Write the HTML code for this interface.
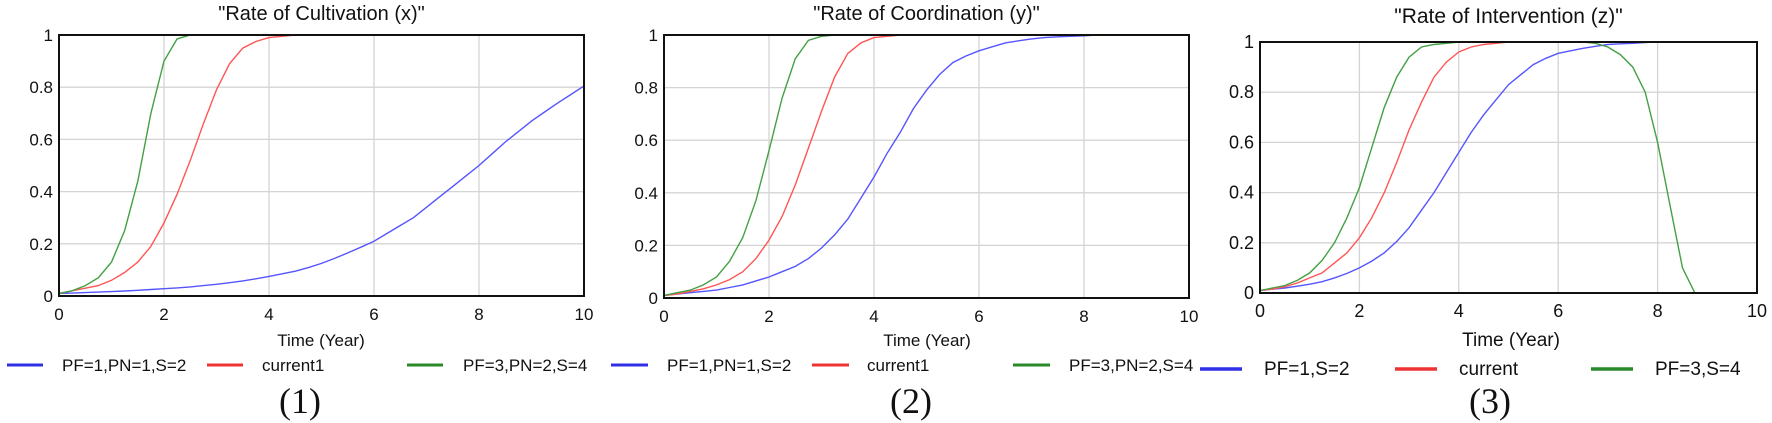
<!DOCTYPE html>
<html><head><meta charset="utf-8"><style>
html,body{margin:0;padding:0;background:#fff;}
svg{display:block;font-family:"Liberation Sans",sans-serif;}
</style></head><body>
<svg id="chart" width="1772" height="423" viewBox="0 0 1772 423" xmlns="http://www.w3.org/2000/svg"></svg>
<script>
const xTicks = [0,2,4,6,8,10];
const yTicks = [0,0.2,0.4,0.6,0.8,1];
const yTickLabels = ["0","0.2","0.4","0.6","0.8","1"];
const titles = ['"Rate of Cultivation (x)"','"Rate of Coordination (y)"','"Rate of Intervention (z)"'];
const captions = ["(1)","(2)","(3)"];
const legendNames1 = ["PF=1,PN=1,S=2","current1","PF=3,PN=2,S=4"];
const legendNames2 = ["PF=1,PN=1,S=2","current1","PF=3,PN=2,S=4"];
const legendNames3 = ["PF=1,S=2","current","PF=3,S=4"];
// time 0..10 step 0.25
const p1Blue = [.010,.011,.013,.015,.017,.019,.022,.025,.028,.031,.035,.040,.045,.051,.058,.066,.075,.085,.095,.109,.125,.144,.165,.187,.21,.24,.27,.30,.34,.38,.42,.46,.50,.545,.59,.63,.67,.705,.74,.772,.805];
const p1Red = [.01,.02,.03,.04,.06,.09,.13,.19,.28,.39,.52,.66,.79,.89,.95,.975,.99,.995,1,1,1,1,1,1,1,1,1,1,1,1,1,1,1,1,1,1,1,1,1,1,1];
const p1Green = [.01,.02,.04,.07,.13,.25,.44,.70,.90,.985,1,1,1,1,1,1,1,1,1,1,1,1,1,1,1,1,1,1,1,1,1,1,1,1,1,1,1,1,1,1,1];
const p2Blue = [.01,.015,.02,.025,.03,.04,.05,.065,.08,.1,.12,.15,.19,.24,.30,.38,.46,.55,.63,.72,.79,.85,.895,.92,.94,.955,.97,.978,.985,.99,.993,.995,.997,1,1,1,1,1,1,1,1];
const p2Red = [.01,.015,.025,.035,.05,.07,.10,.15,.22,.31,.43,.57,.71,.84,.93,.97,.99,.995,1,1,1,1,1,1,1,1,1,1,1,1,1,1,1,1,1,1,1,1,1,1,1];
const p2Green = [.01,.02,.03,.05,.08,.14,.23,.37,.56,.76,.91,.98,.995,1,1,1,1,1,1,1,1,1,1,1,1,1,1,1,1,1,1,1,1,1,1,1,1,1,1,1,1];
const p3Blue = [.01,.015,.02,.027,.035,.045,.06,.078,.1,.127,.16,.205,.26,.33,.40,.48,.56,.64,.71,.77,.83,.87,.91,.935,.955,.965,.975,.983,.99,.993,.995,.998,1,1,1,1,1,1,1,1,1];
const p3Red = [.01,.015,.025,.04,.06,.08,.12,.16,.22,.30,.40,.52,.65,.76,.86,.92,.96,.98,.99,.995,1,1,1,1,1,1,1,1,1,1,1,1,1,1,1,1,1,1,1,1,1];
const p3Green = [.01,.02,.03,.05,.08,.13,.2,.3,.42,.58,.74,.86,.94,.98,.99,.995,1,1,1,1,1,1,1,1,1,1,1,.995,.98,.95,.9,.8,.6,.35,.1,0,0,0,0,0,0];

const NS="http://www.w3.org/2000/svg";
const svg=document.getElementById('chart');
function mk(tag,attrs,parent){const e=document.createElementNS(NS,tag);for(const k in attrs)e.setAttribute(k,attrs[k]);(parent||svg).appendChild(e);return e;}

const panels=[
 {L:59,R:584,T:35,B:296,tb:20,tf:20,fs:17,lfs:17,lw:3,lineLen:36,cap:300,xl:321,leg:[[7,62],[207,262],[407,463]],ly:365,names:legendNames1,series:[p1Blue,p1Red,p1Green]},
 {L:664,R:1189,T:35,B:298,tb:20,tf:20,fs:17,lfs:17,lw:3,lineLen:37,cap:911,xl:927,leg:[[611,667],[812,867],[1013,1069]],ly:365,names:legendNames2,series:[p2Blue,p2Red,p2Green]},
 {L:1260,R:1757,T:42,B:293,tb:23,tf:21,fs:18,lfs:19,lw:3.5,lineLen:42,cap:1490,xl:1511,leg:[[1200,1264],[1395,1459],[1591,1655]],ly:369,names:legendNames3,series:[p3Blue,p3Red,p3Green]}
];
const lineColors=["#5555ff","#ff5555","#44a044"];
const legColors=["#2f2fe6","#ee3333","#2a8a2a"];

panels.forEach((p,pi)=>{
  const g=mk('g',{});
  
  
  const sx=v=>p.L+(v/10)*(p.R-p.L);
  const sy=v=>p.B-v*(p.B-p.T);
  const t=mk('text',{x:(p.L+p.R)/2,y:p.tb,'text-anchor':'middle','font-size':p.tf,fill:'#111'},g);
  t.textContent=titles[pi];
  
  
  yTicks.forEach((v,i)=>{
    const gl=mk('line',{x1:p.L,x2:p.R,y1:sy(v),y2:sy(v),stroke:'#d4d4d4','stroke-width':1.3},g);
    
    
    const tl=mk('text',{x:p.L-6,y:sy(v)+6,'text-anchor':'end','font-size':p.fs,fill:'#111'},g);
    tl.textContent=yTickLabels[i];
    
    
  });
  xTicks.forEach(v=>{
    const gl=mk('line',{x1:sx(v),x2:sx(v),y1:p.T,y2:p.B,stroke:'#d4d4d4','stroke-width':1.3},g);
    
    
    const tl=mk('text',{x:sx(v),y:p.B+24,'text-anchor':'middle','font-size':p.fs,fill:'#111'},g);
    tl.textContent=String(v);
    
    
  });
  p.series.forEach((arr,si)=>{
    const n=arr.length;
    const pts=arr.map((v,i)=>sx(i*10/(n-1)).toFixed(1)+','+sy(v).toFixed(1)).join(' ');
    const pl=mk('polyline',{points:pts,fill:'none',stroke:lineColors[si],'stroke-width':1.4},g);
    
    
  });
  const fr=mk('rect',{x:p.L,y:p.T,width:p.R-p.L,height:p.B-p.T,fill:'none',stroke:'#111','stroke-width':2},g);
  
  
  const xl=mk('text',{x:p.xl,y:346,'text-anchor':'middle','font-size':p.lfs,fill:'#111'},g);
  xl.textContent='Time (Year)';
  
  
  p.leg.forEach((lg,li)=>{
    const ll=mk('line',{x1:lg[0],x2:lg[0]+p.lineLen,y1:p.ly,y2:p.ly,stroke:legColors[li],'stroke-width':p.lw},g);
    
    
    const lt=mk('text',{x:lg[1],y:p.ly+6,'font-size':p.lfs,fill:'#111'},g);
    lt.textContent=p.names[li];
    
    
  });
  const cp=mk('text',{x:p.cap,y:413,'text-anchor':'middle','font-size':36,fill:'#111','font-family':'"Liberation Serif",serif'},g);
  cp.textContent=captions[pi];
  
  
});
</script>
</body></html>
